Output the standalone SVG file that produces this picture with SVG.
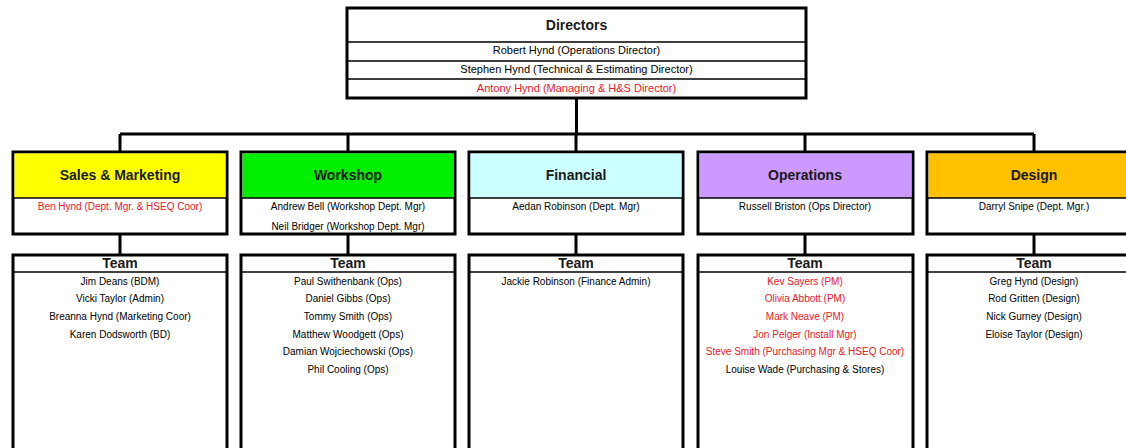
<svg xmlns="http://www.w3.org/2000/svg" width="1126" height="448" viewBox="0 0 1126 448">
<style>
.box{fill:#fff;stroke:#000;stroke-width:3}
.div{stroke:#000;stroke-width:1.5;fill:none}
.conn{stroke:#000;stroke-width:3;fill:none}
.t{font-family:"Liberation Sans",Arial,sans-serif;text-anchor:middle;fill:#000}
.h{font-size:14px;font-weight:bold;fill:#1a1a1a}
.n{font-size:10px}
.d{font-size:11px}
.r{fill:#e8202a}
</style>
<rect width="1126" height="448" fill="#fff"/>
<g id="connectors">
<path class="conn" d="M576.5 98V134M120 134H1034M120 134V152M348 134V152M576 134V152M805 134V152M1034 134V152"/>
<path class="conn" d="M120 234V255M348 234V255M576 234V255M805 234V255M1034 234V255"/>
</g>
<g id="directors">
<rect class="box" x="347" y="8" width="459" height="90"/>
<path class="div" d="M347 42H806M347 61H806M347 79H806"/>
<text class="t h" x="576.5" y="30">Directors</text>
<text class="t d" x="576.5" y="54">Robert Hynd (Operations Director)</text>
<text class="t d" x="576.5" y="73">Stephen Hynd (Technical &amp; Estimating Director)</text>
<text class="t d r" x="576.5" y="92">Antony Hynd (Managing &amp; H&amp;S Director)</text>
</g>
<g id="sales">
<rect class="box" x="13" y="152" width="214" height="82"/>
<rect x="14.5" y="153.5" width="211" height="44.5" fill="#ffff00"/>
<path class="div" d="M13 198H227"/>
<text class="t h" x="120" y="180">Sales &amp; Marketing</text>
<text class="t n r" x="120" y="210">Ben Hynd (Dept. Mgr. &amp; HSEQ Coor)</text>
</g>
<g id="workshop">
<rect class="box" x="241" y="152" width="214" height="82"/>
<rect x="242.5" y="153.5" width="211" height="44.5" fill="#00ee00"/>
<path class="div" d="M241 198H455"/>
<text class="t h" x="348" y="180">Workshop</text>
<text class="t n" x="348" y="210">Andrew Bell (Workshop Dept. Mgr)</text>
<text class="t n" x="348" y="229.5">Neil Bridger (Workshop Dept. Mgr)</text>
</g>
<g id="financial">
<rect class="box" x="469" y="152" width="214" height="82"/>
<rect x="470.5" y="153.5" width="211" height="44.5" fill="#ccffff"/>
<path class="div" d="M469 198H683"/>
<text class="t h" x="576" y="180">Financial</text>
<text class="t n" x="576" y="210">Aedan Robinson (Dept. Mgr)</text>
</g>
<g id="operations">
<rect class="box" x="698" y="152" width="215" height="82"/>
<rect x="699.5" y="153.5" width="212" height="44.5" fill="#cc99ff"/>
<path class="div" d="M698 198H913"/>
<text class="t h" x="805" y="180">Operations</text>
<text class="t n" x="805" y="210">Russell Briston (Ops Director)</text>
</g>
<g id="design">
<rect class="box" x="927" y="152" width="215" height="82"/>
<rect x="928.5" y="153.5" width="212" height="44.5" fill="#ffc000"/>
<path class="div" d="M927 198H1142"/>
<text class="t h" x="1034" y="180">Design</text>
<text class="t n" x="1034" y="210">Darryl Snipe (Dept. Mgr.)</text>
</g>
<g id="sales-team">
<rect class="box" x="13" y="255" width="214" height="210"/>
<path class="div" d="M13 272H227"/>
<text class="t h" x="120" y="268">Team</text>
<text class="t n" x="120" y="284.5">Jim Deans (BDM)</text>
<text class="t n" x="120" y="302">Vicki Taylor (Admin)</text>
<text class="t n" x="120" y="320">Breanna Hynd (Marketing Coor)</text>
<text class="t n" x="120" y="337.5">Karen Dodsworth (BD)</text>
</g>
<g id="workshop-team">
<rect class="box" x="241" y="255" width="214" height="210"/>
<path class="div" d="M241 272H455"/>
<text class="t h" x="348" y="268">Team</text>
<text class="t n" x="348" y="284.5">Paul Swithenbank (Ops)</text>
<text class="t n" x="348" y="302">Daniel Gibbs (Ops)</text>
<text class="t n" x="348" y="320">Tommy Smith (Ops)</text>
<text class="t n" x="348" y="337.5">Matthew Woodgett (Ops)</text>
<text class="t n" x="348" y="355">Damian Wojciechowski (Ops)</text>
<text class="t n" x="348" y="373">Phil Cooling (Ops)</text>
</g>
<g id="financial-team">
<rect class="box" x="469" y="255" width="214" height="210"/>
<path class="div" d="M469 272H683"/>
<text class="t h" x="576" y="268">Team</text>
<text class="t n" x="576" y="284.5">Jackie Robinson (Finance Admin)</text>
</g>
<g id="operations-team">
<rect class="box" x="698" y="255" width="215" height="210"/>
<path class="div" d="M698 272H913"/>
<text class="t h" x="805" y="268">Team</text>
<text class="t n r" x="805" y="284.5">Kev Sayers (PM)</text>
<text class="t n r" x="805" y="302">Olivia Abbott (PM)</text>
<text class="t n r" x="805" y="320">Mark Neave (PM)</text>
<text class="t n r" x="805" y="337.5">Jon Pelger (Install Mgr)</text>
<text class="t n r" x="805" y="355">Steve Smith (Purchasing Mgr &amp; HSEQ Coor)</text>
<text class="t n" x="805" y="373">Louise Wade (Purchasing &amp; Stores)</text>
</g>
<g id="design-team">
<rect class="box" x="927" y="255" width="215" height="210"/>
<path class="div" d="M927 272H1142"/>
<text class="t h" x="1034" y="268">Team</text>
<text class="t n" x="1034" y="284.5">Greg Hynd (Design)</text>
<text class="t n" x="1034" y="302">Rod Gritten (Design)</text>
<text class="t n" x="1034" y="320">Nick Gurney (Design)</text>
<text class="t n" x="1034" y="337.5">Eloise Taylor (Design)</text>
</g>
</svg>
